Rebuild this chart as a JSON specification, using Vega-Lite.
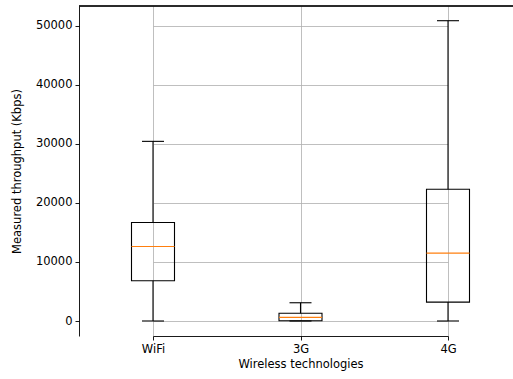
{
  "$schema": "https://vega.github.io/schema/vega-lite/v6.json",
  "width": 434,
  "height": 330,
  "autosize": "none",
  "padding": {"left": 79, "top": 6, "right": 0, "bottom": 43},
  "background": "white",
  "config": {
    "font": "DejaVu Sans",
    "view": {"stroke": null},
    "axis": {
      "labelFont": "DejaVu Sans",
      "titleFont": "DejaVu Sans",
      "labelFontSize": 11.5,
      "titleFontSize": 11.5,
      "titleFontWeight": "normal",
      "labelColor": "black",
      "titleColor": "black",
      "domainColor": "black",
      "domainWidth": 0.9,
      "tickColor": "black",
      "tickWidth": 0.9,
      "tickSize": 4,
      "labelPadding": 3,
      "gridColor": "#b0b0b0",
      "gridWidth": 0.9,
      "gridOpacity": 0.9
    }
  },
  "data": {
    "values": [
      {"tech": "WiFi", "min": 0, "q1": 6810, "median": 12620, "q3": 16680, "max": 30420},
      {"tech": "3G", "min": 0, "q1": 50, "median": 620, "q3": 1300, "max": 3090},
      {"tech": "4G", "min": 0, "q1": 3200, "median": 11490, "q3": 22300, "max": 50850}
    ]
  },
  "encoding": {
    "x": {
      "field": "tech",
      "type": "nominal",
      "sort": ["WiFi", "3G", "4G"],
      "scale": {"type": "point", "range": [74, 369], "padding": 0},
      "axis": {"title": "Wireless technologies", "labelAngle": 0, "grid": true, "titlePadding": 4}
    }
  },
  "layer": [
    {
      "mark": {"type": "rule", "color": "black", "strokeWidth": 0.9},
      "encoding": {
        "x": {"value": 0},
        "x2": {"value": 434},
        "y": {"datum": 53340, "type": "quantitative"}
      }
    },
    {
      "mark": {"type": "rule", "color": "black", "strokeWidth": 1.1},
      "encoding": {
        "y": {
          "field": "min",
          "type": "quantitative",
          "scale": {"domain": [-2540, 53340], "nice": false, "zero": false},
          "axis": {"title": "Measured throughput (Kbps)", "values": [0, 10000, 20000, 30000, 40000, 50000], "format": "d", "grid": true, "titlePadding": 13}
        },
        "y2": {"field": "q1"}
      }
    },
    {
      "mark": {"type": "rule", "color": "black", "strokeWidth": 1.1},
      "encoding": {
        "y": {"field": "q3", "type": "quantitative"},
        "y2": {"field": "max"}
      }
    },
    {
      "mark": {"type": "bar", "fill": null, "fillOpacity": 0, "stroke": "black", "strokeWidth": 1.1, "size": 43},
      "encoding": {
        "y": {"field": "q1", "type": "quantitative"},
        "y2": {"field": "q3"}
      }
    },
    {
      "mark": {"type": "tick", "color": "#ff7f0e", "size": 43, "thickness": 1.1, "opacity": 1},
      "encoding": {
        "y": {"field": "median", "type": "quantitative"}
      }
    },
    {
      "mark": {"type": "tick", "color": "black", "size": 22, "thickness": 1.1, "opacity": 1},
      "encoding": {
        "y": {"field": "min", "type": "quantitative"}
      }
    },
    {
      "mark": {"type": "tick", "color": "black", "size": 22, "thickness": 1.1, "opacity": 1},
      "encoding": {
        "y": {"field": "max", "type": "quantitative"}
      }
    }
  ]
}
